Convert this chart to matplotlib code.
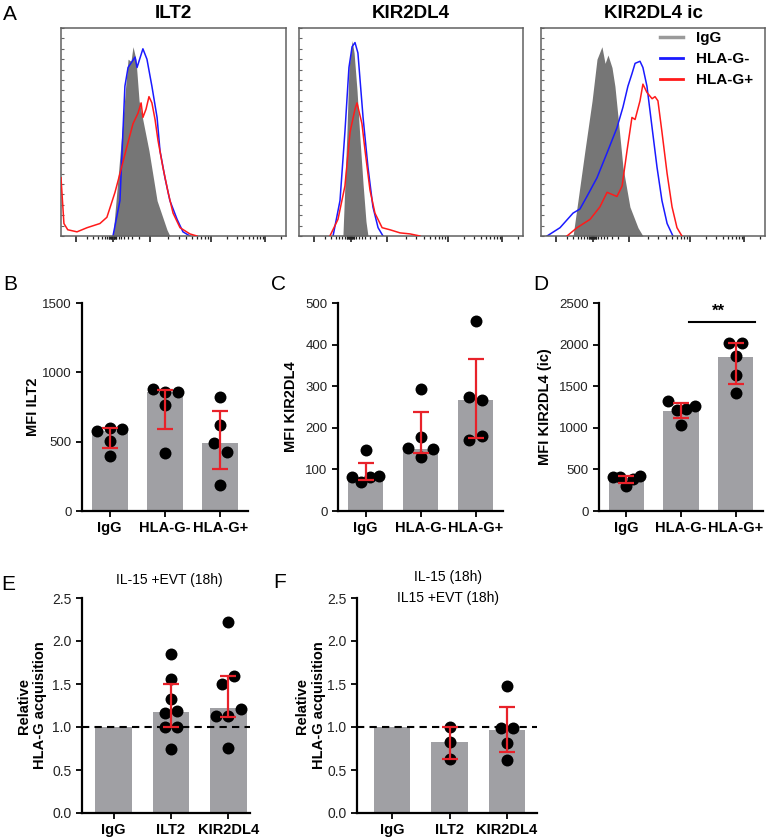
import numpy as np
import matplotlib
matplotlib.use('Agg')
import matplotlib.pyplot as plt
from matplotlib.lines import Line2D

plt.rcParams['font.family'] = ['Liberation Sans', 'DejaVu Sans']

# ---------------- data ----------------
# Panel A: flow histograms (x in % of axis width, y = relative count)
hist_titles = ["ILT2", "KIR2DL4", "KIR2DL4 ic"]
legend_labels = ["IgG", "HLA-G-", "HLA-G+"]

ilt2_igg_x = [23.1, 27.1, 28.9, 29.8, 31.1, 32.0, 33.3, 34.7, 39.1, 42.7, 47.1, 48.4]
ilt2_igg_y = [0, 0.50, 0.74, 0.85, 0.84, 0.91, 0.85, 0.65, 0.41, 0.17, 0.03, 0]
ilt2_neg_x = [23.1, 26.2, 28.4, 29.8, 32.9, 33.8, 36.4, 38.2, 40.4, 42.7, 44.0, 46.2, 48.4, 51.6, 54.2, 57.3]
ilt2_neg_y = [0, 0.17, 0.72, 0.81, 0.86, 0.81, 0.90, 0.85, 0.72, 0.57, 0.41, 0.28, 0.17, 0.08, 0.02, 0]
ilt2_pos_x = [0, 1.3, 3.0, 7.1, 11.6, 17.3, 20.4, 24.0, 26.2, 29.3, 32.0, 34.2, 35.6, 36.4, 37.8, 39.1,
              40.4, 41.8, 43.1, 45.3, 47.6, 49.8, 52.9, 57.3, 60.4]
ilt2_pos_y = [0.28, 0.06, 0.03, 0.02, 0.04, 0.06, 0.09, 0.21, 0.30, 0.43, 0.54, 0.59, 0.64, 0.57, 0.61, 0.67,
              0.64, 0.56, 0.46, 0.33, 0.21, 0.11, 0.04, 0.01, 0]

kir_igg_x = [19.6, 21.4, 22.3, 23.7, 24.6, 25.9, 27.2, 28.6, 29.9, 30.8]
kir_igg_y = [0, 0.50, 0.81, 0.94, 0.88, 0.70, 0.47, 0.25, 0.07, 0]
kir_neg_x = [15.2, 18.3, 20.5, 22.3, 23.7, 25.0, 26.3, 28.6, 30.8, 33.0, 35.3, 37.5]
kir_neg_y = [0, 0.17, 0.50, 0.81, 0.91, 0.93, 0.88, 0.57, 0.33, 0.14, 0.04, 0]
kir_pos_x = [13.8, 17.4, 20.5, 22.8, 25.0, 25.9, 28.1, 29.5, 31.7, 33.9, 37.1, 40.6, 45.1, 49.6, 54.0]
kir_pos_y = [0, 0.08, 0.24, 0.50, 0.61, 0.64, 0.54, 0.41, 0.22, 0.11, 0.04, 0.03, 0.015, 0.01, 0]

kic_igg_x = [14.3, 16.5, 19.6, 22.8, 25.0, 27.2, 28.6, 29.9, 31.7, 33.0, 34.4, 36.6, 39.7, 43.3, 45.5]
kic_igg_y = [0, 0.17, 0.41, 0.65, 0.85, 0.91, 0.83, 0.87, 0.81, 0.72, 0.57, 0.33, 0.14, 0.04, 0]
kic_neg_x = [2.7, 8.5, 14.3, 17.4, 20.5, 25.0, 29.5, 33.9, 36.6, 38.8, 40.6, 42.0, 44.2, 45.5, 47.3,
             49.6, 51.8, 54.0, 56.3, 58.9]
kic_neg_y = [0, 0.04, 0.11, 0.13, 0.19, 0.28, 0.40, 0.52, 0.62, 0.72, 0.78, 0.83, 0.84, 0.81, 0.72,
             0.52, 0.33, 0.17, 0.06, 0]
kic_pos_x = [11.6, 16.1, 21.9, 26.3, 29.5, 33.9, 36.2, 38.4, 40.6, 42.0, 44.2, 45.5, 47.3, 49.6, 50.9,
             52.2, 54.0, 56.3, 58.5, 60.7, 62.9]
kic_pos_y = [0, 0.04, 0.08, 0.14, 0.21, 0.19, 0.24, 0.41, 0.57, 0.56, 0.65, 0.73, 0.69, 0.66, 0.67,
             0.65, 0.50, 0.30, 0.14, 0.04, 0]

# Panels B-D
cats_bcd = ["IgG", "HLA-G-", "HLA-G+"]
b_bars = [577, 861, 488]
b_lo = [455, 590, 305]
b_hi = [597, 869, 719]
b_pts = [[577, 599, 591, 505, 397], [877, 861, 861, 764, 416], [820, 618, 488, 423, 187]]

c_bars = [81, 150, 266]
c_lo = [75, 140, 176]
c_hi = [115, 237, 366]
c_pts = [[81, 70, 81, 84, 147], [150.6, 130.5, 148, 178.6, 294], [275, 267, 171, 180, 457]]

d_bars = [395, 1205, 1855]
d_lo = [340, 1120, 1532]
d_hi = [415, 1300, 2020]
d_pts = [[413, 413, 300, 380, 420], [1328, 1208, 1220, 1268, 1032], [1868, 2020, 2020, 1640, 1420]]
d_sig_label = "**"
d_sig_level = 2268

# Panels E-F
cats_ef = ["IgG", "ILT2", "KIR2DL4"]
e_bars = [1.0, 1.17, 1.22]
e_lo = [np.nan, 1.0, 1.12]
e_hi = [np.nan, 1.50, 1.59]
e_pts = [[], [1.85, 1.56, 1.33, 1.16, 1.19, 1.0, 1.0, 0.744], [2.22, 1.50, 1.59, 1.13, 1.13, 1.21, 0.76]]

f_bars = [1.0, 0.825, 0.965]
f_lo = [np.nan, 0.63, 0.715]
f_hi = [np.nan, 1.0, 1.23]
f_pts = [[], [1.0, 0.83, 0.63], [1.48, 0.99, 0.99, 0.81, 0.62]]

# ---------------- styling ----------------
W, H = 768, 840
fig = plt.figure(figsize=(W / 100, H / 100), dpi=100)
BAR = '#a0a0a4'
RED = '#e8222a'
GRAY_FILL = '#767676'
BLUE = '#1a1aff'
HRED = '#ff1a1a'


def add_ax(x0, y0, x1, y1):
    return fig.add_axes([x0 / W, 1 - y1 / H, (x1 - x0) / W, (y1 - y0) / H])


def letter(x, y, s):
    fig.text(x / W, 1 - y / H, s, fontsize=15, ha='center', va='center')


# ---------------- Panel A ----------------
hist_data = [
    (ilt2_igg_x, ilt2_igg_y, ilt2_neg_x, ilt2_neg_y, ilt2_pos_x, ilt2_pos_y),
    (kir_igg_x, kir_igg_y, kir_neg_x, kir_neg_y, kir_pos_x, kir_pos_y),
    (kic_igg_x, kic_igg_y, kic_neg_x, kic_neg_y, kic_pos_x, kic_pos_y),
]
hist_rects = [(61, 28, 286, 236), (299, 28, 523, 236), (541, 28, 765, 236)]

MAJ = [6.5, 23, 39.5, 66.5, 90.7]
lg = np.log10(np.arange(2, 10))
minor = []
minor += list(6.5 + (23 - 6.5) * lg)
minor += list(39.5 - (39.5 - 23) * lg)
minor += list(39.5 + (66.5 - 39.5) * lg)
minor += list(66.5 + (90.7 - 66.5) * lg)
minor += [m for m in (90.7 + 24.2 * lg) if m < 99.5]
minor += list(np.linspace(21.5, 24.5, 9))

for k, (rect, dat, title) in enumerate(zip(hist_rects, hist_data, hist_titles)):
    ax = add_ax(*rect)
    gx, gy, nx, ny, px, py = dat
    ax.fill_between(gx, gy, color=GRAY_FILL, lw=0, zorder=1)
    ax.plot(nx, ny, color=BLUE, lw=1.1, zorder=2)
    ax.plot(px, py, color=HRED, lw=1.1, zorder=3)
    ax.set_xlim(0, 100)
    ax.set_ylim(0, 1.0)
    for s in ax.spines.values():
        s.set_color('#606060')
        s.set_linewidth(1.1)
    ax.set_xticks(MAJ)
    ax.set_xticks(minor, minor=True)
    ax.set_xticklabels([])
    ax.tick_params(axis='x', which='major', direction='out', length=4, width=1.2, color='#222')
    ax.tick_params(axis='x', which='minor', direction='out', length=2.2, width=0.9, color='#222')
    ax.set_yticks([])
    ax.set_yticks(np.linspace(0, 1, 21), minor=True)
    ax.tick_params(axis='y', which='minor', direction='in', length=2, width=0.8, color='#666')
    ax.text(0.5, 1.072, title, transform=ax.transAxes, ha='center', va='center',
            fontsize=13.5, fontweight='bold')
    if k == 2:
        handles = [Line2D([], [], color='#9a9a9a', lw=2.5),
                   Line2D([], [], color=BLUE, lw=2),
                   Line2D([], [], color=HRED, lw=2)]
        ax.legend(handles, legend_labels, loc='upper left', bbox_to_anchor=(0.53, 0.985),
                  frameon=False, borderaxespad=0, handlelength=1.5, handletextpad=0.9,
                  labelspacing=0.45, borderpad=0,
                  prop={'weight': 'bold', 'size': 11})

letter(10, 14, 'A')


# ---------------- bar panels ----------------
def swarm_x(ax, xc, vals, gap_px=9.5, step_px=12.5, max_px=27):
    vals = np.asarray(vals, float)
    y_px = ax.transData.transform(np.column_stack([np.zeros_like(vals), vals]))[:, 1]
    x_per_px = 1.0 / (ax.transData.transform((1, 0))[0] - ax.transData.transform((0, 0))[0])
    order = np.argsort(y_px, kind='stable')
    rows, cur = [], [order[0]]
    for a, b in zip(order[:-1], order[1:]):
        if y_px[b] - y_px[a] < gap_px:
            cur.append(b)
        else:
            rows.append(cur)
            cur = [b]
    rows.append(cur)
    xs = np.full(len(vals), float(xc))
    for r in rows:
        r = sorted(r)
        n = len(r)
        if n == 1:
            continue
        d = min(step_px, max_px / (n - 1))
        for j, idx in enumerate(r):
            xs[idx] = xc + (j - (n - 1) / 2) * d * x_per_px
    return xs


def bar_panel(rect, cats, bars, lo, hi, pts, ylim, yticks, xlim, width, fmt=None, ylabsize=9.5):
    ax = add_ax(*rect)
    x = np.arange(len(cats))
    ax.set_xlim(*xlim)
    ax.set_ylim(*ylim)
    ax.bar(x, bars, width=width, color=BAR, zorder=1)
    for i, p in enumerate(pts):
        if len(p) == 0:
            continue
        xs = swarm_x(ax, x[i], p)
        ax.scatter(xs, p, s=74, color='black', linewidths=0, zorder=3)
    bars = np.asarray(bars, float)
    lo = np.asarray(lo, float)
    hi = np.asarray(hi, float)
    m = ~np.isnan(lo)
    ax.errorbar(x[m], bars[m], yerr=[bars[m] - lo[m], hi[m] - bars[m]], fmt='none',
                ecolor=RED, elinewidth=1.6, capsize=6, capthick=1.6, zorder=4)
    ax.spines['top'].set_visible(False)
    ax.spines['right'].set_visible(False)
    for s in ('left', 'bottom'):
        ax.spines[s].set_linewidth(1.6)
    ax.set_xticks(x)
    ax.set_xticklabels(cats, fontweight='bold', fontsize=10.5)
    ax.set_yticks(yticks)
    if fmt:
        ax.set_yticklabels([fmt % t for t in yticks])
    ax.tick_params(axis='both', direction='out', length=4, width=1.3, labelsize=ylabsize,
                   labelcolor='#222')
    ax.tick_params(axis='x', labelsize=10.5, labelcolor='black', pad=3)
    return ax


axB = bar_panel((82, 303, 248, 511), cats_bcd, b_bars, b_lo, b_hi, b_pts,
                (0, 1500), [0, 500, 1000, 1500], (-0.5, 2.5), 0.65)
axB.set_ylabel('MFI ILT2', fontweight='bold', fontsize=10.5, va='center')
axB.yaxis.set_label_coords((33 - 82) / 166, 0.5)
letter(10, 285, 'B')

axC = bar_panel((338, 303, 503, 511), cats_bcd, c_bars, c_lo, c_hi, c_pts,
                (0, 500), [0, 100, 200, 300, 400, 500], (-0.5, 2.5), 0.65)
axC.set_ylabel('MFI KIR2DL4', fontweight='bold', fontsize=10.5, va='center')
axC.yaxis.set_label_coords((291 - 338) / 165, 0.5)
letter(279, 285, 'C')

axD = bar_panel((599, 303, 763, 511), cats_bcd, d_bars, d_lo, d_hi, d_pts,
                (0, 2500), [0, 500, 1000, 1500, 2000, 2500], (-0.5, 2.5), 0.65)
axD.set_ylabel('MFI KIR2DL4 (ic)', fontweight='bold', fontsize=10.5, va='center')
axD.yaxis.set_label_coords((545 - 599) / 164, 0.5)
axD.plot([1.15, 2.35], [d_sig_level, d_sig_level], color='black', lw=1.5, clip_on=False)
axD.text(1.68, d_sig_level + 40, d_sig_label, ha='center', va='bottom', fontsize=12,
         fontweight='bold')
letter(541, 284, 'D')

axE = bar_panel((82, 598, 250, 813), cats_ef, e_bars, e_lo, e_hi, e_pts,
                (0, 2.5), [0, 0.5, 1.0, 1.5, 2.0, 2.5], (-0.55, 2.38), 0.64, fmt='%.1f',
                ylabsize=10)
axE.axhline(1.0, color='black', lw=1.5, ls=(0, (3.5, 2.5)), zorder=2)
axE.set_ylabel('Relative\nHLA-G acquisition', fontweight='bold', fontsize=10.5, va='center',
               multialignment='center')
axE.yaxis.set_label_coords((32 - 82) / 168, 0.5)
axE.text(0.52, (813 - 580) / 215, 'IL-15 +EVT (18h)', transform=axE.transAxes,
         ha='center', va='center', fontsize=10)
letter(8, 585, 'E')

axF = bar_panel((357, 598, 537, 813), cats_ef, f_bars, f_lo, f_hi, f_pts,
                (0, 2.5), [0, 0.5, 1.0, 1.5, 2.0, 2.5], (-0.61, 2.52), 0.64, fmt='%.1f',
                ylabsize=10)
axF.axhline(1.0, color='black', lw=1.5, ls=(0, (3.5, 2.5)), zorder=2)
axF.set_ylabel('Relative\nHLA-G acquisition', fontweight='bold', fontsize=10.5, va='center',
               multialignment='center')
axF.yaxis.set_label_coords((310.5 - 357) / 180, 0.5)
axF.text(0.506, (813 - 577) / 215, 'IL-15 (18h)', transform=axF.transAxes,
         ha='center', va='center', fontsize=10)
axF.text(0.506, (813 - 598) / 215, 'IL15 +EVT (18h)', transform=axF.transAxes,
         ha='center', va='center', fontsize=10)
letter(280, 583, 'F')

fig.savefig('out.png', dpi=100)
